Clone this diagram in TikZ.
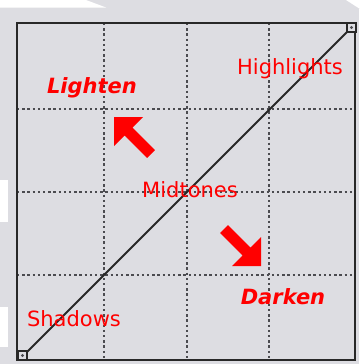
\documentclass[tikz,border=0pt]{standalone}
\usepackage{fontspec}
\setmainfont{DejaVu Sans}[BoldFont={DejaVu Sans Bold}, ItalicFont={DejaVu Sans Oblique}, BoldItalicFont={DejaVu Sans Bold Oblique}]
\definecolor{bg}{RGB}{221,221,226}
\definecolor{framecol}{RGB}{40,40,40}
\definecolor{dotcol}{RGB}{75,75,80}
\definecolor{lab}{RGB}{255,0,0}
\begin{document}
\begin{tikzpicture}[x=1pt,y=-1pt,
  txt/.style={text=lab, font=\fontsize{21}{25}\selectfont, anchor=base, inner sep=0pt},
  boldtxt/.style={txt, font=\fontsize{21}{25}\selectfont\bfseries\itshape},
  gridline/.style={dotcol, line width=2.3pt, dash pattern=on 2.3pt off 2.9pt},
  cornerbox/.style={draw=framecol, line width=1.4pt, fill=bg},
  bigarrow/.pic={\fill[lab] (0,0) -- (29,0) -- (18.4,10.6) -- (40.9,33.1) -- (33.1,40.9) -- (10.6,18.4) -- (0,29) -- cycle;}
]
\useasboundingbox (0,0) rectangle (360,364);
% background
\fill[bg] (0,0) rectangle (360,364);
\fill[white] (0,0) -- (86,0) -- (106,7.5) -- (0,7.5) -- cycle;
\fill[white] (346,0) -- (360,0) -- (360,9) -- cycle;
\fill[white] (358.5,9) rectangle (360,364);
\fill[white] (0,180) rectangle (8,222);
\fill[white] (0,307) rectangle (8,347);
% grid
\foreach \gx in {104,187,269} {\draw[gridline] (\gx,23) -- (\gx,360);}
\foreach \gy in {109,192,275} {\draw[gridline] (17,\gy) -- (355,\gy);}
% diagonal curve
\coordinate (s) at (25,354);
\coordinate (h) at (349,30);
\draw[framecol, line width=2pt] (s) -- (h);
% frame
\draw[framecol, line width=2.8pt] (17,23) rectangle (355,360);
% end point boxes
\node[cornerbox, minimum size=9pt, inner sep=0pt] (sb) at (22.5,355.5) {};
\node[cornerbox, minimum size=9pt, inner sep=0pt] (hb) at (351.5,27.5) {};
\fill[dotcol] (sb.center) circle (1.6pt);
\fill[dotcol] (hb.center) circle (1.6pt);
% arrows
\pic (la) at (114,117) {bigarrow};
\pic[rotate=180] (da) at (261,266) {bigarrow};
% labels
\node[txt] (hl) at (290,74) {Highlights};
\node[txt] (mt) at (190,197) {Midtones};
\node[txt] (sh) at (74,326) {Shadows};
\node[boldtxt] (li) at (92,93) {Lighten};
\node[boldtxt] (dk) at (283,304) {Darken};
\end{tikzpicture}
\end{document}
